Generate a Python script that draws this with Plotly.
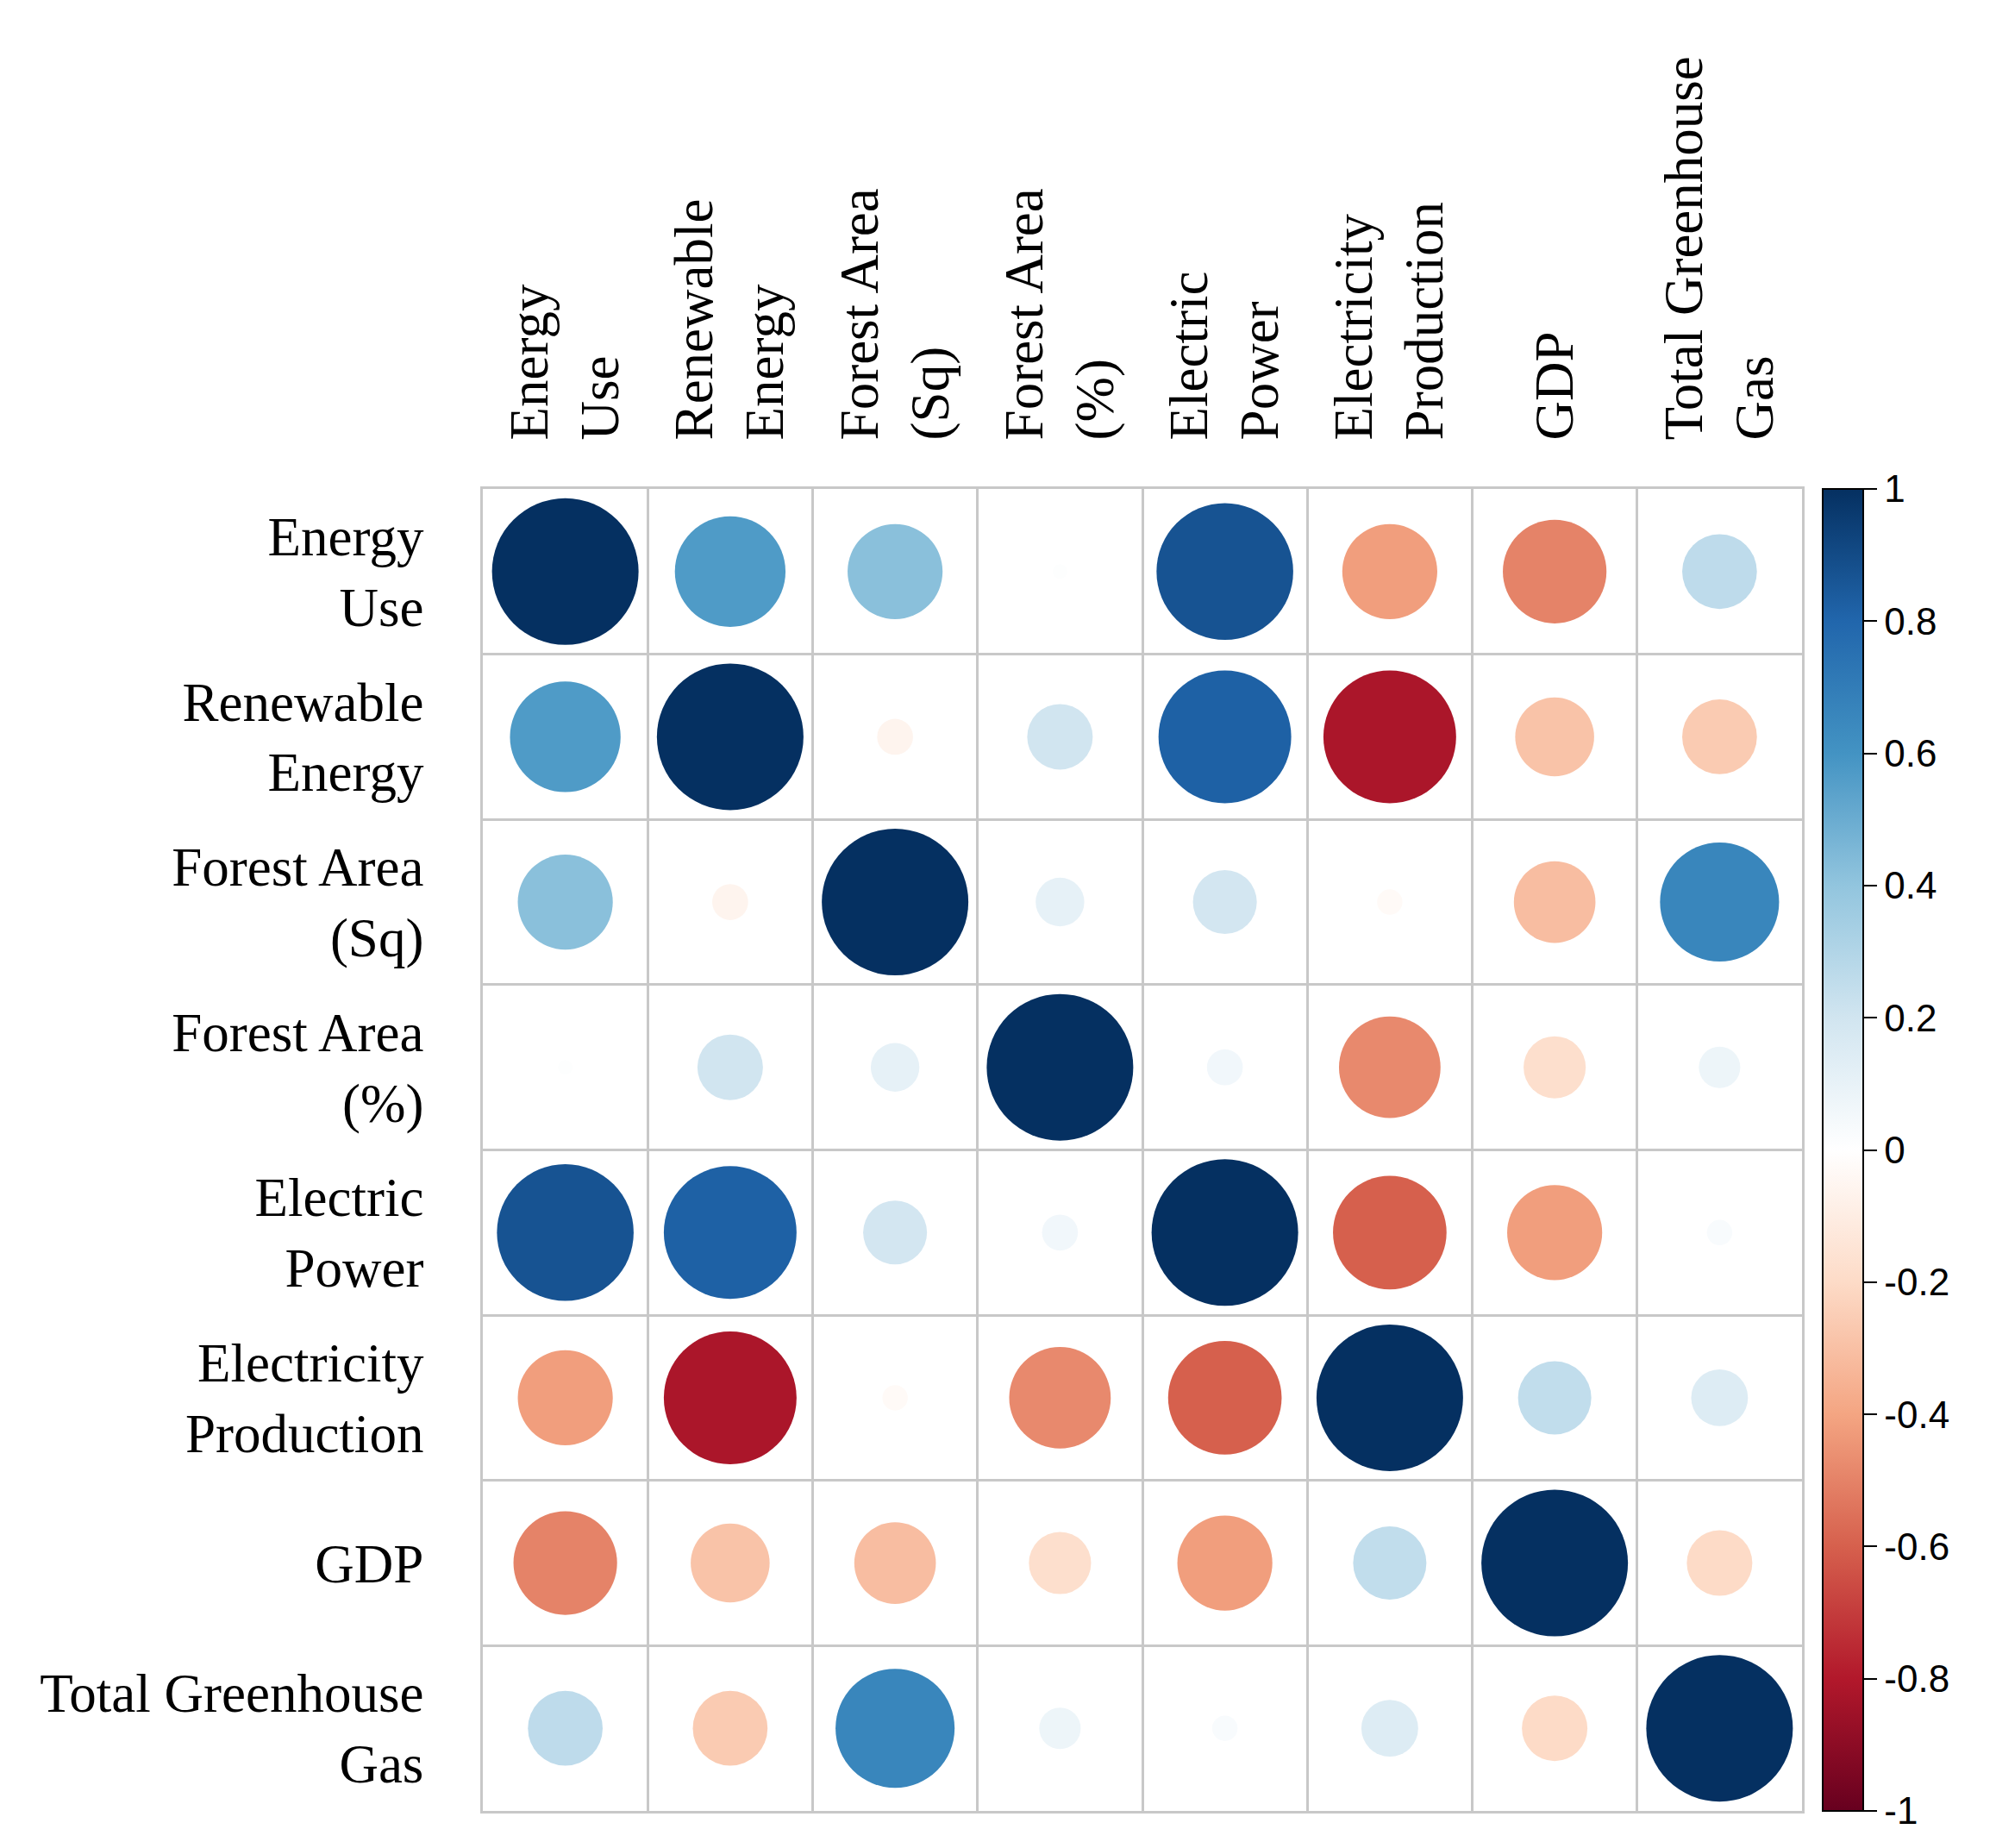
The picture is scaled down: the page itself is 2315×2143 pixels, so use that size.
import numpy as np
import plotly.graph_objects as go

variables = ["Energy<br>Use", "Renewable<br>Energy", "Forest Area<br>(Sq)", "Forest Area<br>(%)",
             "Electric<br>Power", "Electricity<br>Production", "GDP", "Total Greenhouse<br>Gas"]

# correlation matrix rows (symmetric)
energy_use     = [1.00, 0.57, 0.42, 0.01, 0.87, -0.42, -0.50, 0.26]
renewable      = [0.57, 1.00, -0.06, 0.20, 0.82, -0.82, -0.29, -0.26]
forest_sq      = [0.42, -0.06, 1.00, 0.11, 0.19, -0.03, -0.31, 0.66]
forest_pct     = [0.01, 0.20, 0.11, 1.00, 0.06, -0.48, -0.18, 0.08]
electric_power = [0.87, 0.82, 0.19, 0.06, 1.00, -0.60, -0.42, 0.03]
elec_prod      = [-0.42, -0.82, -0.03, -0.48, -0.60, 1.00, 0.25, 0.15]
gdp            = [-0.50, -0.29, -0.31, -0.18, -0.42, 0.25, 1.00, -0.20]
greenhouse     = [0.26, -0.26, 0.66, 0.08, 0.03, 0.15, -0.20, 1.00]

cbar_ticks = [1, 0.8, 0.6, 0.4, 0.2, 0, -0.2, -0.4, -0.6, -0.8, -1]
cbar_text = ["1", "0.8", "0.6", "0.4", "0.2", "0", "-0.2", "-0.4", "-0.6", "-0.8", "-1"]

rows = [energy_use, renewable, forest_sq, forest_pct, electric_power, elec_prod, gdp, greenhouse]
n = len(variables)
M = np.array(rows)

palette = ["#67001F", "#B2182B", "#D6604D", "#F4A582", "#FDDBC7", "#FFFFFF",
           "#D1E5F0", "#92C5DE", "#4393C3", "#2166AC", "#053061"]
colorscale = [[i / (len(palette) - 1), c] for i, c in enumerate(palette)]

xs, ys, vals = [], [], []
for i in range(n):
    for j in range(n):
        xs.append(j + 1)
        ys.append(i + 1)
        vals.append(M[i, j])
vals = np.array(vals)
max_d = 170
sizes = max_d * np.sqrt(np.abs(vals))

fig = go.Figure()
fig.add_trace(go.Scatter(
    x=xs, y=ys, mode="markers",
    marker=dict(
        size=sizes, color=vals, colorscale=colorscale, cmin=-1, cmax=1,
        opacity=1, line=dict(width=0),
        colorbar=dict(
            thickness=47, thicknessmode="pixels", len=1, lenmode="fraction",
            y=0.5, yanchor="middle", x=1.0157, xanchor="left", xpad=0, ypad=0,
            outlinewidth=2, outlinecolor="black",
            tickmode="array", tickvals=cbar_ticks, ticktext=cbar_text,
            ticks="outside", ticklen=15, tickwidth=2, tickcolor="black",
            tickfont=dict(family="Liberation Sans", size=44, color="black"),
        ),
    ),
    opacity=1,
    hoverinfo="skip", showlegend=False,
))

grid = "#C8C8C8"
fig.update_xaxes(
    range=[0.5, n + 0.5], side="top", tickmode="array",
    tickvals=list(range(1, n + 1)), ticktext=variables, tickangle=-90,
    tickfont=dict(family="Liberation Serif", size=63, color="black"),
    showgrid=False, zeroline=False, ticks="", ticklabelstandoff=41,
    showline=True, mirror=True, linecolor=grid, linewidth=3,
    minor=dict(tick0=0.5, dtick=1, showgrid=True, gridcolor=grid, gridwidth=3),
    automargin=False,
)
fig.update_yaxes(
    range=[n + 0.5, 0.5], tickmode="array",
    tickvals=list(range(1, n + 1)), ticktext=variables,
    tickfont=dict(family="Liberation Serif", size=63, color="black"),
    showgrid=False, zeroline=False, ticks="", ticklabelstandoff=53,
    showline=True, mirror=True, linecolor=grid, linewidth=3,
    minor=dict(tick0=0.5, dtick=1, showgrid=True, gridcolor=grid, gridwidth=3),
    automargin=False,
)
fig.update_layout(
    width=2315, height=2143,
    margin=dict(l=552, r=233, t=559, b=51),
    paper_bgcolor="white", plot_bgcolor="white",
)
fig.write_html("out.html")
